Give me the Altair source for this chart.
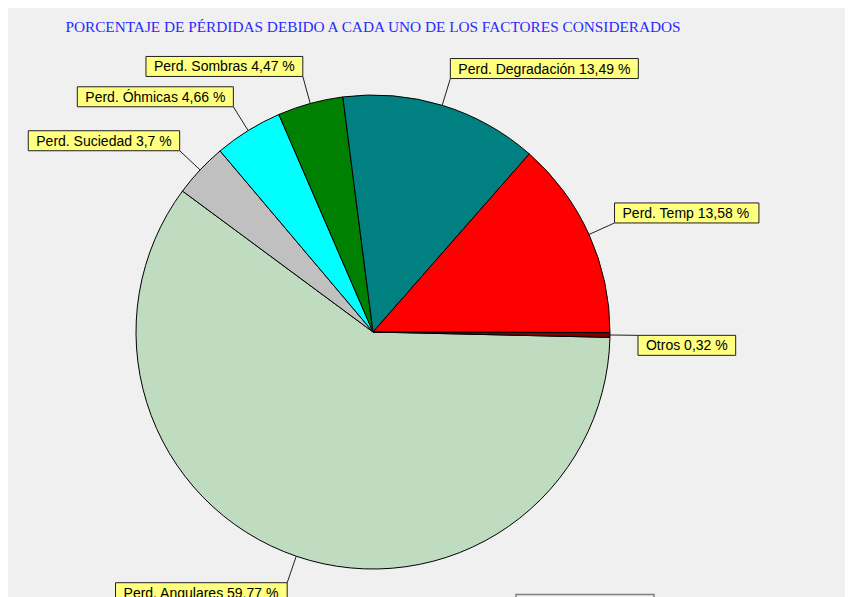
import math
import altair as alt
import pandas as pd

# ---- data ----
categorias = ["Perd. Angulares", "Perd. Suciedad", "Perd. Óhmicas", "Perd. Sombras",
              "Perd. Degradación", "Perd. Temp", "Otros"]
porcentajes = [59.77, 3.7, 4.66, 4.47, 13.49, 13.58, 0.32]
colores = ["#c0dcc0", "#c0c0c0", "#00ffff", "#008000", "#008080", "#ff0000", "#800000"]
titulo = "PORCENTAJE DE PÉRDIDAS DEBIDO A CADA UNO DE LOS FACTORES CONSIDERADOS"

# ---- layout ----
W, H = 837, 600
CX, CY = 365, 324
R = 237
R_LEADER = 265
START = 91.3  # degrees, clockwise from 12 o'clock
FS = 14
BOX_H = 20
PAD = 8

ARIAL = {
    " ": 278, "%": 889, ",": 278, ".": 278,
    "A": 667, "B": 667, "C": 722, "D": 722, "E": 667, "F": 611, "G": 778, "H": 722,
    "I": 278, "J": 500, "K": 667, "L": 556, "M": 833, "N": 722, "O": 778, "P": 667,
    "Q": 778, "R": 722, "S": 667, "T": 611, "U": 722, "V": 667, "W": 944, "X": 667,
    "Y": 667, "Z": 611, "Ó": 778,
    "a": 556, "b": 556, "c": 500, "d": 556, "e": 556, "f": 278, "g": 556, "h": 556,
    "i": 222, "j": 222, "k": 500, "l": 222, "m": 833, "n": 556, "o": 556, "p": 556,
    "q": 556, "r": 333, "s": 500, "t": 278, "u": 556, "v": 500, "w": 722, "x": 500,
    "y": 500, "z": 500, "ó": 556, "á": 556, "é": 556, "í": 278,
}


def text_width(s):
    return sum(ARIAL.get(ch, 556) for ch in s) * FS / 1000.0


total = sum(porcentajes)
rows = []
acc = 0.0
for i, (c, v) in enumerate(zip(categorias, porcentajes)):
    mid = START + 360 * (acc + v / 2) / total
    acc += v
    a = math.radians(mid)
    label = f"{c} {format(v, 'g').replace('.', ',')} %"
    x1, y1 = R * math.sin(a), R * math.cos(a)
    x2, y2 = R_LEADER * math.sin(a), R_LEADER * math.cos(a)
    w = text_width(label) + 2 * PAD
    if x2 < 0:
        bx0, bx1 = x2 - w, x2
    else:
        bx0, bx1 = x2, x2 + w
    if y2 > 10:
        by0, by1 = y2, y2 + BOX_H
    else:
        by0, by1 = y2 - BOX_H, y2
    rows.append(dict(categoria=c, valor=v, orden=i, etiqueta=label,
                     x1=x1, y1=y1, x2=x2, y2=y2,
                     bx0=bx0, bx1=bx1, by0=by0, by1=by1,
                     tx=bx0 + PAD, ty=by0 + 5))

df = pd.DataFrame(rows)

xs = alt.Scale(domain=[-CX, W - CX], nice=False, zero=False)
ys = alt.Scale(domain=[-(H - CY), CY], nice=False, zero=False)

base = alt.Chart(df)

a0 = math.radians(START)
arcs = base.mark_arc(radius=R, stroke="black", strokeWidth=1).encode(
    theta=alt.Theta("valor:Q", stack=True,
                    scale=alt.Scale(domain=[0, total], range=[a0, a0 + 2 * math.pi])),
    color=alt.Color("categoria:N", scale=alt.Scale(domain=categorias, range=colores), legend=None),
    order=alt.Order("orden:Q"),
    x=alt.value(CX),
    y=alt.value(CY),
)

leaders = base.mark_rule(color="#202020", strokeWidth=1).encode(
    x=alt.X("x1:Q", scale=xs, axis=None),
    y=alt.Y("y1:Q", scale=ys, axis=None),
    x2="x2:Q",
    y2="y2:Q",
)

boxes = base.mark_rect(fill="#ffff80", stroke="#202020", strokeWidth=1).encode(
    x=alt.X("bx0:Q", scale=xs, axis=None),
    x2="bx1:Q",
    y=alt.Y("by0:Q", scale=ys, axis=None),
    y2="by1:Q",
)

texts = base.mark_text(align="left", baseline="alphabetic", font="Liberation Sans",
                       fontSize=FS, color="#000000").encode(
    x=alt.X("tx:Q", scale=xs, axis=None),
    y=alt.Y("ty:Q", scale=ys, axis=None),
    text="etiqueta:N",
)

title_mark = alt.Chart(pd.DataFrame({"t": [titulo]})).mark_text(
    align="center", baseline="alphabetic", font="Liberation Serif", fontSize=15.3,
    color="#2a2aff").encode(
    text="t:N", x=alt.value(CX), y=alt.value(24))

deco = alt.Chart(pd.DataFrame({"d": [0]})).mark_rect(
    fill="#f0f0f0", stroke="#808080", strokeWidth=1.5).encode(
    x=alt.value(508), x2=alt.value(646), y=alt.value(586.5), y2=alt.value(599))

chart = alt.layer(arcs, leaders, boxes, texts, title_mark, deco).properties(
    width=W, height=H, padding=0, background="#f0f0f0"
).configure_view(stroke=None)

chart.save("out.html", embed_options={"renderer": "svg", "actions": False})
